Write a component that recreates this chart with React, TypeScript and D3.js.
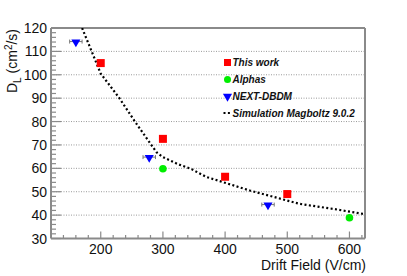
import React from "react";
import * as d3 from "d3";

const W = 407;
const H = 276;

const thisWorkX = [200, 300, 400, 500];
const thisWorkY = [105, 72.6, 56.4, 49];

const alphasX = [300, 600];
const alphasY = [59.8, 38.9];

const nextX = [160, 278, 469];
const nextY = [114.2, 64.8, 44.5];
const nextXErr = [10, 10, 10];

const simX = [170, 200, 230, 255, 280, 290, 300, 325, 345, 370, 440, 520, 575, 625];
const simY = [120, 100.5, 90, 80, 70.5, 66.8, 64.8, 61.7, 59.8, 56.3, 50.5, 44.8, 42.6, 40.4];

const yTicks = [30, 40, 50, 60, 70, 80, 90, 100, 110, 120];
const xTicks = [200, 300, 400, 500, 600];

const legendLabels = ["This work", "Alphas", "NEXT-DBDM", "Simulation Magboltz 9.0.2"];

export default function App() {
  const left = 51, right = 365, top = 28, bottom = 238.5;
  const x = d3.scaleLinear().domain([120, 625]).range([left, right]);
  const y = d3.scaleLinear().domain([30, 120]).range([bottom, top]);
  const font = "'Liberation Sans', Arial, sans-serif";
  const axisCol = "#8a8a8a";

  const yMinor = d3.range(30, 120.01, 2).filter((v) => v % 10 !== 0);
  const xMinor = d3.range(140, 625, 20).filter((v) => v % 100 !== 0);

  const line = d3
    .line<number>()
    .x((_, i) => x(simX[i]))
    .y((_, i) => y(simY[i]));
  const tri = d3.symbol().type(d3.symbolTriangle).size(36)();

  const legX = 227.5;
  const legY = [62.5, 79.5, 96.5, 113];

  return (
    <svg width={W} height={H} style={{ position: "absolute", left: 0, top: 0 }}>
      <rect width={W} height={H} fill="white" />
      <defs>
        <clipPath id="plot">
          <rect x={left} y={top} width={right - left} height={bottom - top} />
        </clipPath>
      </defs>
      {/* grid */}
      {yTicks.slice(1, -1).map((v) => (
        <line key={"g" + v} x1={left} x2={right} y1={y(v)} y2={y(v)} stroke="#9a9a9a" strokeWidth={1} strokeDasharray="1,1.5" />
      ))}
      {/* frame */}
      <line x1={left} x2={right} y1={top} y2={top} stroke={axisCol} strokeWidth={2} />
      <line x1={right} x2={right} y1={top} y2={bottom} stroke={axisCol} strokeWidth={2} />
      <line x1={left} x2={left} y1={top} y2={bottom} stroke={axisCol} strokeWidth={2} />
      <line x1={left} x2={right} y1={bottom} y2={bottom} stroke={axisCol} strokeWidth={2} />
      {/* y ticks */}
      {yTicks.map((v) => (
        <line key={"yt" + v} x1={left} x2={left + 10} y1={y(v)} y2={y(v)} stroke={axisCol} strokeWidth={1.2} />
      ))}
      {yMinor.map((v) => (
        <line key={"ym" + v} x1={left} x2={left + 5} y1={y(v)} y2={y(v)} stroke={axisCol} strokeWidth={1.2} />
      ))}
      {xTicks.map((v) => (
        <line key={"xt" + v} x1={x(v)} x2={x(v)} y1={bottom} y2={bottom - 7} stroke={axisCol} strokeWidth={1.2} />
      ))}
      {xMinor.map((v) => (
        <line key={"xm" + v} x1={x(v)} x2={x(v)} y1={bottom} y2={bottom - 3.5} stroke={axisCol} strokeWidth={1.2} />
      ))}
      {/* tick labels */}
      {yTicks.map((v) => (
        <text key={"yl" + v} x={47} y={y(v) + 5} textAnchor="end" fontFamily={font} fontSize={14} fill="#111">
          {v}
        </text>
      ))}
      {xTicks.map((v) => (
        <text key={"xl" + v} x={x(v)} y={254} textAnchor="middle" fontFamily={font} fontSize={14} fill="#111">
          {v}
        </text>
      ))}
      {/* axis titles */}
      <text x={366} y={270} textAnchor="end" fontFamily={font} fontSize={14} fill="#111">
        Drift Field (V/cm)
      </text>
      <text transform="translate(17,93) rotate(-90)" fontFamily={font} fontSize={14} fill="#111">
        D<tspan dy={4} fontSize={10}>L</tspan>
        <tspan dy={-4}> (cm</tspan>
        <tspan dy={-5} fontSize={10}>2</tspan>
        <tspan dy={5}>/s)</tspan>
      </text>
      {/* simulation */}
      <g clipPath="url(#plot)">
        <path d={line(simX) || ""} fill="none" stroke="#000" strokeWidth={2.2} strokeDasharray="2,2.4" />
      </g>
      {/* this work */}
      {thisWorkX.map((v, i) => (
        <rect key={"tw" + i} x={x(v) - 4} y={y(thisWorkY[i]) - 4} width={8} height={8} fill="#ff0000" />
      ))}
      {/* alphas */}
      {alphasX.map((v, i) => (
        <circle key={"al" + i} cx={x(v)} cy={y(alphasY[i])} r={3.8} fill="#00ee00" />
      ))}
      {/* NEXT */}
      {nextX.map((v, i) => (
        <g key={"nx" + i}>
          <line x1={x(v - nextXErr[i])} x2={x(v + nextXErr[i])} y1={y(nextY[i])} y2={y(nextY[i])} stroke="#777" strokeWidth={1} />
          <line x1={x(v - nextXErr[i])} x2={x(v - nextXErr[i])} y1={y(nextY[i]) - 2} y2={y(nextY[i]) + 2} stroke="#777" strokeWidth={1} />
          <line x1={x(v + nextXErr[i])} x2={x(v + nextXErr[i])} y1={y(nextY[i]) - 2} y2={y(nextY[i]) + 2} stroke="#777" strokeWidth={1} />
          <path d={tri || ""} transform={`translate(${x(v)},${y(nextY[i]) + 0.5}) rotate(180)`} fill="#0000ff" />
        </g>
      ))}
      {/* legend */}
      <rect x={legX - 3.5} y={legY[0] - 3.5} width={7} height={7} fill="#ff0000" />
      <circle cx={legX} cy={legY[1]} r={3.5} fill="#00ee00" />
      <path d={tri || ""} transform={`translate(${legX},${legY[2]}) rotate(180)`} fill="#0000ff" />
      <line x1={legX - 4} x2={legX + 3} y1={legY[3]} y2={legY[3]} stroke="#000" strokeWidth={2} strokeDasharray="2,2.4" />
      {legendLabels.map((t, i) => (
        <text key={"lg" + i} x={232.5} y={legY[i] + 3.5} fontFamily={font} fontSize={10} fontWeight="bold" fontStyle="italic" fill="#111">
          {t}
        </text>
      ))}
    </svg>
  );
}
